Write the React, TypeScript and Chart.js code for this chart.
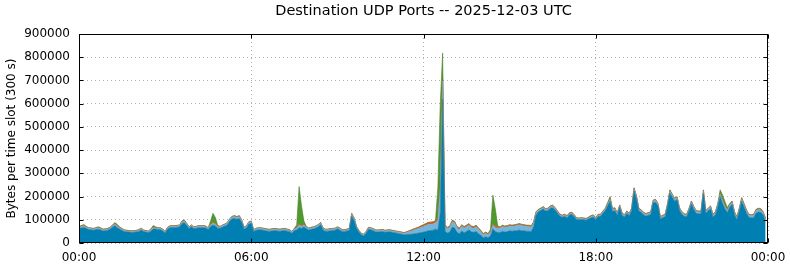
import React, { useEffect, useRef } from "react";
import { Chart, registerables } from "chart.js";

Chart.register(...registerables);

const TITLE = "Destination UDP Ports -- 2025-12-03 UTC";
const Y_LABEL = "Bytes per time slot (300 s)";
const SLOT_MINUTES = 5;
const UNIT = 1000; // values below are in thousands of bytes
const X_MAX_MINUTES = 1440;
const X_STEP_MINUTES = 360;
const X_TICK_LABELS = ["00:00", "06:00", "12:00", "18:00", "00:00"];
const Y_MAX = 900000;
const Y_STEP = 100000;

const SERIES_NAMES = ["UDP port A", "UDP port B", "UDP port C", "UDP port D"];
const SERIES_COLORS = ["#0080b2", "#72b6de", "#d2581c", "#4f9a2c"];
const SERIES_BORDERS = ["#3b7592", "#7aa6c0", "#c0561e", "#467f2a"];

// one value per 5-minute slot (288 slots), thousands of bytes
const BLUE = [
  63, 65, 67, 63, 58, 57, 55, 58, 59, 57, 52, 53,
  55, 60, 68, 75, 66, 60, 54, 49, 48, 47, 46, 46,
  48, 50, 56, 49, 47, 45, 51, 60, 60, 58, 58, 52,
  43, 60, 66, 67, 67, 68, 69, 83, 88, 76, 62, 70,
  62, 64, 66, 66, 66, 65, 58, 71, 78, 73, 64, 63,
  69, 73, 78, 95, 104, 106, 102, 106, 89, 59, 66, 82,
  85, 50, 55, 57, 57, 55, 53, 51, 51, 53, 54, 52,
  51, 53, 54, 51, 50, 42, 54, 56, 67, 62, 70, 62,
  56, 59, 61, 65, 70, 79, 56, 51, 51, 53, 54, 55,
  61, 56, 50, 50, 52, 55, 116, 96, 63, 47, 35, 31,
  42, 59, 57, 53, 48, 47, 49, 49, 46, 48, 48, 46,
  44, 42, 40, 38, 36, 37, 38, 38, 40, 41, 43, 45,
  47, 50, 53, 54, 55, 60, 55, 130, 618, 51, 43, 47,
  69, 65, 46, 40, 52, 44, 50, 57, 48, 46, 50, 40,
  33, 23, 27, 23, 31, 61, 49, 45, 45, 51, 47, 49,
  53, 51, 53, 53, 56, 53, 53, 51, 51, 50, 70, 119,
  135, 140, 147, 138, 140, 150, 153, 143, 129, 116, 111, 115,
  109, 121, 124, 113, 101, 100, 101, 100, 98, 104, 109, 112,
  101, 115, 115, 128, 140, 161, 180, 136, 140, 119, 154, 119,
  112, 128, 118, 139, 224, 191, 139, 132, 121, 116, 120, 123,
  173, 176, 160, 104, 110, 113, 156, 215, 197, 180, 187, 141,
  124, 115, 113, 139, 169, 145, 128, 126, 126, 213, 128, 139,
  147, 112, 122, 154, 200, 171, 147, 131, 154, 167, 122, 101,
  137, 180, 155, 130, 111, 109, 109, 129, 134, 132, 121, 94,
];

const LIGHT_BLUE = [
  6, 6, 5, 5, 5, 5, 5, 5, 6, 5, 5, 5,
  5, 5, 6, 6, 6, 5, 5, 5, 4, 4, 4, 4,
  4, 5, 5, 4, 4, 4, 5, 6, 5, 5, 5, 5,
  4, 5, 5, 5, 5, 5, 6, 7, 7, 6, 5, 5,
  5, 5, 6, 6, 6, 5, 5, 6, 8, 7, 6, 6,
  6, 6, 7, 7, 8, 8, 8, 8, 7, 6, 6, 7,
  7, 5, 6, 6, 6, 6, 6, 6, 6, 6, 6, 6,
  6, 6, 6, 6, 5, 5, 6, 7, 10, 8, 7, 6,
  6, 6, 6, 6, 7, 7, 6, 6, 6, 6, 6, 6,
  6, 6, 5, 5, 5, 6, 8, 8, 6, 5, 4, 4,
  5, 6, 6, 6, 6, 6, 6, 6, 6, 6, 6, 6,
  6, 6, 6, 6, 6, 8, 11, 14, 16, 18, 20, 22,
  24, 26, 27, 27, 27, 27, 40, 100, 80, 20, 18, 20,
  22, 22, 18, 18, 20, 20, 20, 20, 18, 18, 20, 18,
  15, 12, 14, 12, 14, 15, 18, 18, 18, 20, 20, 20,
  20, 20, 20, 22, 22, 22, 20, 20, 20, 18, 15, 10,
  6, 6, 6, 6, 6, 6, 6, 6, 5, 5, 5, 5,
  5, 5, 5, 5, 4, 4, 4, 4, 4, 4, 5, 5,
  5, 5, 5, 6, 6, 7, 8, 7, 7, 7, 6, 7,
  6, 6, 6, 7, 8, 8, 7, 7, 7, 7, 7, 8,
  8, 8, 7, 6, 6, 7, 8, 8, 8, 8, 8, 7,
  7, 7, 7, 7, 8, 8, 8, 8, 8, 10, 8, 7,
  8, 7, 8, 9, 10, 10, 10, 9, 9, 9, 8, 8,
  8, 9, 9, 8, 8, 8, 9, 10, 10, 10, 9, 8,
];

const ORANGE = [
  2, 2, 3, 2, 2, 2, 2, 2, 2, 2, 2, 2,
  2, 2, 2, 3, 3, 2, 2, 2, 2, 2, 2, 2,
  2, 2, 2, 2, 2, 2, 3, 3, 2, 2, 2, 2,
  2, 2, 2, 2, 2, 2, 2, 3, 3, 2, 2, 2,
  2, 2, 2, 2, 2, 2, 2, 3, 4, 4, 2, 2,
  2, 2, 2, 2, 2, 3, 3, 3, 3, 2, 2, 2,
  2, 2, 2, 2, 2, 2, 2, 2, 2, 2, 2, 2,
  2, 2, 2, 2, 2, 2, 2, 3, 6, 5, 3, 2,
  2, 2, 2, 2, 2, 2, 2, 2, 2, 2, 2, 2,
  2, 2, 2, 2, 2, 2, 3, 3, 2, 2, 2, 2,
  2, 2, 2, 2, 2, 2, 2, 2, 2, 2, 2, 2,
  2, 2, 2, 2, 2, 3, 3, 4, 4, 5, 5, 6,
  7, 7, 8, 8, 8, 8, 12, 18, 10, 5, 4, 5,
  5, 5, 5, 5, 5, 5, 5, 5, 5, 5, 5, 5,
  4, 4, 4, 4, 4, 5, 7, 5, 4, 4, 4, 4,
  4, 4, 4, 4, 4, 4, 4, 4, 4, 4, 4, 3,
  3, 3, 3, 3, 3, 3, 3, 3, 3, 3, 3, 3,
  3, 3, 3, 3, 3, 3, 3, 3, 3, 3, 3, 3,
  3, 3, 3, 3, 3, 3, 4, 3, 3, 3, 3, 3,
  3, 3, 3, 3, 4, 4, 3, 3, 3, 3, 3, 3,
  3, 3, 3, 3, 3, 3, 4, 4, 3, 3, 3, 3,
  3, 3, 3, 3, 3, 3, 3, 3, 3, 4, 3, 3,
  3, 3, 3, 3, 4, 4, 4, 3, 3, 3, 3, 3,
  3, 4, 4, 3, 3, 3, 4, 4, 4, 4, 3, 3,
];

const GREEN = [
  1, 2, 5, 2, 1, 1, 1, 1, 3, 2, 1, 1,
  1, 1, 2, 4, 5, 3, 1, 1, 1, 1, 1, 1,
  1, 1, 1, 1, 1, 1, 1, 6, 3, 1, 1, 1,
  1, 1, 1, 1, 1, 1, 1, 2, 2, 1, 1, 1,
  1, 1, 1, 1, 1, 1, 1, 15, 38, 26, 3, 1,
  1, 1, 1, 1, 1, 1, 1, 1, 1, 1, 1, 1,
  1, 1, 1, 1, 1, 1, 1, 1, 1, 1, 1, 1,
  1, 1, 1, 1, 1, 1, 1, 12, 160, 85, 15, 2,
  1, 1, 1, 1, 1, 1, 1, 1, 1, 1, 1, 1,
  1, 1, 1, 1, 1, 1, 1, 1, 1, 1, 1, 1,
  1, 1, 1, 1, 1, 1, 1, 1, 1, 1, 1, 1,
  1, 1, 1, 1, 1, 1, 1, 1, 1, 1, 1, 1,
  1, 1, 1, 1, 1, 2, 130, 350, 110, 3, 2, 2,
  2, 2, 2, 2, 2, 2, 2, 2, 2, 2, 2, 2,
  2, 2, 2, 2, 10, 125, 75, 6, 2, 2, 2, 2,
  2, 2, 2, 2, 2, 2, 2, 2, 2, 2, 2, 2,
  1, 1, 1, 1, 1, 1, 1, 1, 1, 1, 1, 1,
  1, 1, 1, 1, 1, 1, 1, 1, 1, 1, 1, 1,
  1, 1, 1, 1, 1, 4, 8, 4, 2, 1, 1, 1,
  1, 1, 1, 1, 2, 2, 1, 1, 1, 1, 1, 1,
  1, 1, 1, 1, 1, 1, 2, 2, 2, 2, 2, 1,
  1, 1, 1, 1, 1, 1, 1, 1, 1, 2, 1, 1,
  2, 2, 2, 4, 15, 22, 18, 10, 4, 2, 2, 2,
  2, 3, 2, 2, 2, 2, 2, 2, 2, 2, 2, 2,
];

const SERIES = [BLUE, LIGHT_BLUE, ORANGE, GREEN];

const FONT = "'DejaVu Sans', sans-serif";
const CHART_LEFT = 79;
const CHART_RIGHT_PAD = 22;
const CHART_TOP = 34;
const X_AXIS_HEIGHT = 24;
const TICK_LEN = 4;

const framePlugin = {
  id: "frameTicks",
  afterDatasetsDraw(chart: any) {
    const { ctx, chartArea: a, scales } = chart;
    const l = Math.round(a.left) + 0.5;
    const r = Math.round(a.right) - 0.5;
    const t = Math.round(a.top) + 0.5;
    const b = Math.round(a.bottom) - 0.5;
    ctx.save();
    ctx.strokeStyle = "#000";
    ctx.lineWidth = 1;
    ctx.beginPath();
    for (const tk of scales.y.ticks) {
      const y = Math.round(scales.y.getPixelForValue(tk.value)) + 0.5;
      ctx.moveTo(l, y);
      ctx.lineTo(l + TICK_LEN, y);
      ctx.moveTo(r, y);
      ctx.lineTo(r - TICK_LEN, y);
    }
    for (const tk of scales.x.ticks) {
      const x = Math.round(scales.x.getPixelForValue(tk.value)) + 0.5;
      ctx.moveTo(x, t);
      ctx.lineTo(x, t + TICK_LEN);
      ctx.moveTo(x, b);
      ctx.lineTo(x, b - TICK_LEN);
    }
    ctx.stroke();
    ctx.strokeRect(l, t, r - l, b - t);
    ctx.restore();
  },
};

export default function App() {
  const ref = useRef<HTMLCanvasElement | null>(null);

  useEffect(() => {
    document.body.style.margin = "0";
    const canvas = ref.current;
    if (!canvas) return;
    const datasets = SERIES.map((vals, si) => ({
      label: SERIES_NAMES[si],
      data: vals.map((v, i) => ({ x: i * SLOT_MINUTES, y: v * UNIT })),
      backgroundColor: SERIES_COLORS[si],
      borderColor: SERIES_BORDERS[si],
      borderWidth: 0.6,
      pointRadius: 0,
      tension: 0,
      fill: si === 0 ? "origin" : "-1",
    }));
    const chart = new Chart(canvas, {
      type: "line",
      data: { datasets },
      plugins: [framePlugin],
      options: {
        animation: false,
        responsive: false,
        devicePixelRatio: 1,
        layout: { padding: { top: CHART_TOP, right: CHART_RIGHT_PAD, left: 0, bottom: 0 } },
        plugins: {
          legend: { display: false },
          title: { display: false },
          tooltip: { enabled: false },
        },
        scales: {
          x: {
            type: "linear",
            min: 0,
            max: X_MAX_MINUTES,
            afterFit: (s: any) => {
              s.height = X_AXIS_HEIGHT;
              s.paddingLeft = 0;
              s.paddingRight = 0;
            },
            ticks: {
              stepSize: X_STEP_MINUTES,
              autoSkip: false,
              maxRotation: 0,
              padding: 8,
              color: "#000",
              font: { family: FONT, size: 12 },
              callback: (v: any) => X_TICK_LABELS[Math.round(Number(v) / X_STEP_MINUTES)] ?? "",
            },
            grid: { color: "#b4b4b4", lineWidth: 1, drawTicks: false },
            border: { display: false, dash: [1, 3] },
          },
          y: {
            stacked: true,
            min: 0,
            max: Y_MAX,
            afterFit: (s: any) => {
              s.width = CHART_LEFT;
              s.paddingTop = 0;
              s.paddingBottom = 0;
            },
            ticks: {
              stepSize: Y_STEP,
              padding: 9,
              color: "#000",
              font: { family: FONT, size: 12 },
              callback: (v: any) => String(v),
            },
            grid: { color: "#b4b4b4", lineWidth: 1, drawTicks: false },
            border: { display: false, dash: [1, 3] },
            title: {
              display: true,
              text: Y_LABEL,
              color: "#000",
              font: { family: FONT, size: 12 },
              padding: { top: 5, bottom: 4 },
            },
          },
        },
      },
    } as any);
    return () => chart.destroy();
  }, []);

  return (
    <div style={{ position: "absolute", left: 0, top: 0, width: 790, height: 267 }}>
      <div
        style={{
          position: "absolute",
          left: CHART_LEFT,
          width: 790 - CHART_LEFT - CHART_RIGHT_PAD,
          top: 2,
          textAlign: "center",
          fontFamily: FONT,
          fontSize: 14.5,
          color: "#000",
          whiteSpace: "nowrap",
        }}
      >
        {TITLE}
      </div>
      <canvas ref={ref} width={790} height={267} style={{ display: "block" }} />
    </div>
  );
}
